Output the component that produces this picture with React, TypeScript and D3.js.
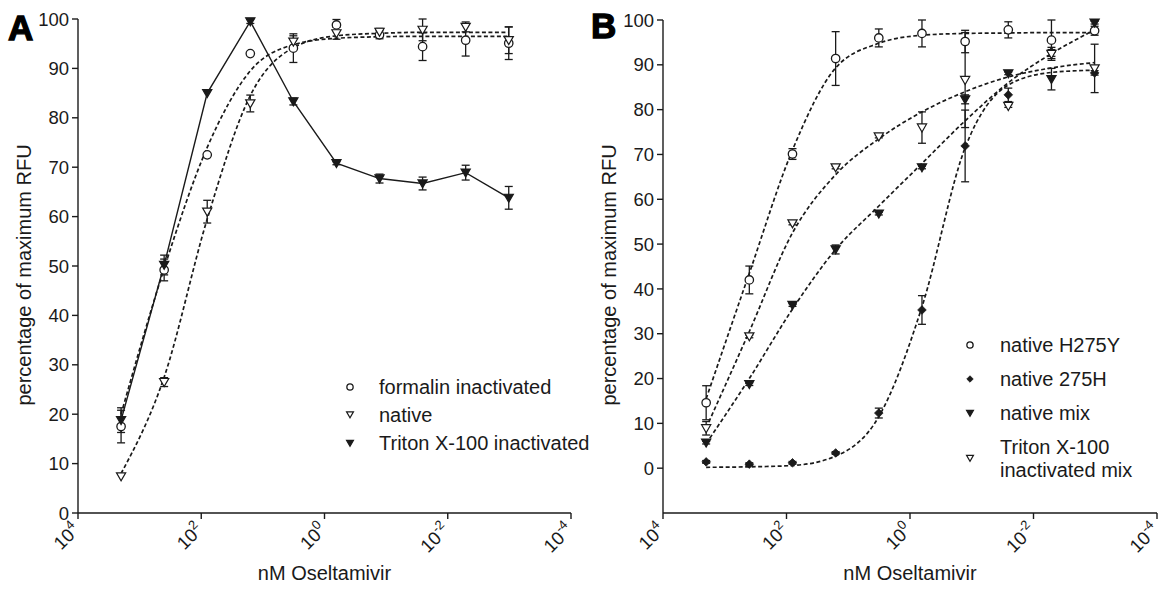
import React from "react";
import * as d3 from "d3";

// ---------- DATA ----------
const conc = [2000, 400, 80, 16, 3.2, 0.64, 0.128, 0.0256, 0.00512, 0.001024];
const xTickExps = [4, 2, 0, -2, -4];
const yTicksA = [0, 10, 20, 30, 40, 50, 60, 70, 80, 90, 100];
const yTicksB = [0, 10, 20, 30, 40, 50, 60, 70, 80, 90, 100];

// Panel A
const formalinMean = [17.5, 49.2, 72.5, 93, 94.1, 98.8, 96.8, 94.4, 95.7, 95.1];
const formalinSem = [3.3, 2.2, 0, 0, 2.9, 1.1, 0.8, 2.8, 3.2, 3.3];
const formalinFit = [20, 49.5, 74, 89.5, 94.8, 96.1, 96.4, 96.5, 96.5, 96.5];

const nativeMean = [7.4, 26.5, 61, 82.9, 95.4, 97.1, 97.4, 97.8, 98.4, 95.7];
const nativeSem = [0, 0.9, 2.3, 1.7, 1.2, 1.2, 0.7, 2.2, 1, 2.7];
const nativeFit = [8, 27.5, 59.5, 84.5, 94.2, 96.6, 97.1, 97.3, 97.3, 97.3];

const tritonMean = [18.8, 50.2, 85, 99.5, 83.3, 70.8, 67.7, 66.7, 68.9, 63.8];
const tritonSem = [2.5, 2, 0, 0.4, 0.7, 0.3, 0.9, 1.3, 1.5, 2.3];

// Panel B
const h275yMean = [14.6, 42, 70.1, 91.4, 96, 97, 95.2, 97.8, 95.5, 97.6];
const h275ySem = [3.8, 3.1, 1.2, 6, 2, 3, 2.5, 1.8, 4.5, 1];
const h275yFit = [15.5, 43.5, 71, 89.3, 94.8, 96.6, 97.0, 97.1, 97.2, 97.2];

const h275Mean = [1.4, 0.9, 1.2, 3.4, 12.3, 35.3, 71.9, 83.3, 92.9, 88.2];
const h275Sem = [0.3, 0.3, 0.3, 0.3, 1.1, 3.2, 8, 1.5, 1, 0.5];
const h275Fit = [0.2, 0.3, 0.6, 2.7, 11.5, 36, 71.5, 85.5, 88.3, 88.8];

const mixMean = [5.7, 18.75, 36.4, 48.8, 56.8, 67.1, 82.3, 88.1, 86.8, 99.4];
const mixSem = [0.3, 0.3, 0.3, 1, 0.3, 0.3, 1, 0.3, 2.4, 0.3];
const mixFit = [5.5, 20, 35.5, 48.8, 58.5, 68, 77.5, 86, 92.5, 97.8];

const tritonMixMean = [8.9, 29.4, 54.6, 67.1, 74, 76, 86.6, 80.8, 92.4, 89.2];
const tritonMixSem = [1.5, 0.3, 0.3, 0.3, 0.3, 3.5, 10.6, 0.3, 1, 5.4];
const tritonMixFit = [9, 30.5, 52.5, 65.5, 73.5, 79.5, 84, 87.3, 89.3, 90.5];

const legendA = ["formalin inactivated", "native", "Triton X-100 inactivated"];
const legendB = ["native H275Y", "native 275H", "native mix", "Triton X-100|inactivated mix"];

// ---------- STYLE ----------
const INK = "#1a1a1a";
const FONT = "'Liberation Sans', Arial, Helvetica, sans-serif";

type Shape = "circle" | "triOpen" | "triFilled" | "diamond";

function Marker({ x, y, shape, s = 1 }: { x: number; y: number; shape: Shape; s?: number }) {
  if (shape === "circle")
    return <circle cx={x} cy={y} r={4.2 * s} fill="#fff" stroke={INK} strokeWidth={1.3} />;
  if (shape === "diamond") {
    const r = 4.3 * s;
    return (
      <path d={`M${x},${y - r}L${x + r},${y}L${x},${y + r}L${x - r},${y}Z`} fill={INK} stroke={INK} strokeWidth={0.8} />
    );
  }
  const w = 4.6 * s, h1 = 3.6 * s, h2 = 4.4 * s;
  return (
    <path
      d={`M${x - w},${y - h1}L${x + w},${y - h1}L${x},${y + h2}Z`}
      fill={shape === "triFilled" ? INK : "#fff"}
      stroke={INK}
      strokeWidth={1.2}
      strokeLinejoin="miter"
    />
  );
}

function Series({ xs, ys, mean, sem }: { xs: any; ys: any; mean: number[]; sem: number[] }) {
  return (
    <g>
      {conc.map((c, i) => {
        const x = xs(c);
        const e = sem[i];
        if (e < 0.25) return null;
        const y1 = ys(mean[i] + e), y2 = ys(mean[i] - e);
        return (
          <g key={i} stroke={INK} strokeWidth={1.3}>
            <line x1={x} x2={x} y1={y1} y2={y2} />
            <line x1={x - 4} x2={x + 4} y1={y1} y2={y1} />
            <line x1={x - 4} x2={x + 4} y1={y2} y2={y2} />
          </g>
        );
      })}
    </g>
  );
}

function Markers({ xs, ys, mean, shape }: { xs: any; ys: any; mean: number[]; shape: Shape }) {
  return (
    <g>
      {conc.map((c, i) => (
        <Marker key={i} x={xs(c)} y={ys(mean[i])} shape={shape} />
      ))}
    </g>
  );
}

function FitLine({ xs, ys, fit, dashed = true }: { xs: any; ys: any; fit: number[]; dashed?: boolean }) {
  const line = d3
    .line<number>()
    .x((_, i) => xs(conc[i]))
    .y((v) => ys(v))
    .curve(dashed ? d3.curveMonotoneX : d3.curveLinear);
  return (
    <path
      d={line(fit) || ""}
      fill="none"
      stroke={INK}
      strokeWidth={dashed ? 1.7 : 1.4}
      strokeDasharray={dashed ? "4,2.5" : undefined}
    />
  );
}

function Axes({ xs, ys, yTicks, titleX }: { xs: any; ys: any; yTicks: number[]; titleX: number }) {
  const [x0, x1] = xs.range();
  const [yb] = ys.range();
  const yt = ys(100);
  const yAxisX = x0;
  return (
    <g fontFamily={FONT} fill={INK}>
      <line x1={yAxisX} x2={yAxisX} y1={yb} y2={yt} stroke={INK} strokeWidth={1.4} />
      <line x1={x0} x2={x1} y1={yb} y2={yb} stroke={INK} strokeWidth={1.4} />
      {yTicks.map((t) => (
        <g key={t}>
          <line x1={yAxisX - 6} x2={yAxisX} y1={ys(t)} y2={ys(t)} stroke={INK} strokeWidth={1.4} />
          <text x={yAxisX - 9} y={ys(t)} dy="0.36em" textAnchor="end" fontSize={18.5} fill={INK}>
            {t}
          </text>
        </g>
      ))}
      {xTickExps.map((e) => {
        const x = xs(Math.pow(10, e));
        return (
          <g key={e}>
            <line x1={x} x2={x} y1={yb} y2={yb + 6} stroke={INK} strokeWidth={1.4} />
            <text transform={`translate(${x + 3},${yb + 18}) rotate(-45)`} textAnchor="end" fontSize={18.5} fill={INK}>
              10<tspan dy={-8} fontSize={13}>{e}</tspan>
            </text>
          </g>
        );
      })}
      <text x={(x0 + x1) / 2} y={580} textAnchor="middle" fontSize={20} fill={INK}>
        nM Oseltamivir
      </text>
      <text transform={`translate(${titleX},275) rotate(-90)`} textAnchor="middle" fontSize={20} fill={INK}>
        percentage of maximum RFU
      </text>
    </g>
  );
}

export default function App() {
  // Panel A scales
  const xA = d3.scaleLog().domain([1e4, 1e-4]).range([78, 571]);
  const yA = d3.scaleLinear().domain([0, 100]).range([513, 19]);
  // Panel B scales
  const xB = d3.scaleLog().domain([1e4, 1e-4]).range([663, 1157]);
  const yB = d3.scaleLinear().domain([-10, 100]).range([513, 20]);

  const legShapesA: Shape[] = ["circle", "triOpen", "triFilled"];
  const legShapesB: Shape[] = ["circle", "diamond", "triFilled", "triOpen"];
  const legYA = [387, 414.5, 443];
  const legYB = [345, 379, 413, 458];

  return (
    <svg width={1162} height={590} style={{ position: "absolute", left: 0, top: 0, background: "#fff" }}>
      <rect width={1162} height={590} fill="#fff" />
      {/* Panel A */}
      <text x={8} y={40} fontFamily={FONT} fontWeight={900} fontSize={35} fill="#000" stroke="#000" strokeWidth={1.3}>A</text>
      <Axes xs={xA} ys={yA} yTicks={yTicksA} titleX={31} />
      <FitLine xs={xA} ys={yA} fit={formalinFit} />
      <FitLine xs={xA} ys={yA} fit={nativeFit} />
      <FitLine xs={xA} ys={yA} fit={tritonMean} dashed={false} />
      <Series xs={xA} ys={yA} mean={formalinMean} sem={formalinSem} />
      <Series xs={xA} ys={yA} mean={nativeMean} sem={nativeSem} />
      <Series xs={xA} ys={yA} mean={tritonMean} sem={tritonSem} />
      <Markers xs={xA} ys={yA} mean={formalinMean} shape="circle" />
      <Markers xs={xA} ys={yA} mean={nativeMean} shape="triOpen" />
      <Markers xs={xA} ys={yA} mean={tritonMean} shape="triFilled" />
      <g fontFamily={FONT} fontSize={20} fill={INK}>
        {legendA.map((l, i) => (
          <g key={l}>
            <Marker x={350} y={legYA[i]} shape={legShapesA[i]} s={0.75} />
            <text x={379} y={legYA[i]} dy="0.36em">{l}</text>
          </g>
        ))}
      </g>

      {/* Panel B */}
      <text x={591} y={38} fontFamily={FONT} fontWeight={900} fontSize={35} fill="#000" stroke="#000" strokeWidth={1.3}>B</text>
      <Axes xs={xB} ys={yB} yTicks={yTicksB} titleX={616} />
      <FitLine xs={xB} ys={yB} fit={h275yFit} />
      <FitLine xs={xB} ys={yB} fit={h275Fit} />
      <FitLine xs={xB} ys={yB} fit={mixFit} />
      <FitLine xs={xB} ys={yB} fit={tritonMixFit} />
      <Series xs={xB} ys={yB} mean={h275yMean} sem={h275ySem} />
      <Series xs={xB} ys={yB} mean={h275Mean} sem={h275Sem} />
      <Series xs={xB} ys={yB} mean={mixMean} sem={mixSem} />
      <Series xs={xB} ys={yB} mean={tritonMixMean} sem={tritonMixSem} />
      <Markers xs={xB} ys={yB} mean={h275yMean} shape="circle" />
      <Markers xs={xB} ys={yB} mean={h275Mean} shape="diamond" />
      <Markers xs={xB} ys={yB} mean={mixMean} shape="triFilled" />
      <Markers xs={xB} ys={yB} mean={tritonMixMean} shape="triOpen" />
      <g fontFamily={FONT} fontSize={20} fill={INK}>
        {legendB.map((l, i) => {
          const parts = l.split("|");
          return (
            <g key={l}>
              <Marker x={970} y={legYB[i]} shape={legShapesB[i]} s={0.75} />
              {parts.length === 1 ? (
                <text x={1000} y={legYB[i]} dy="0.36em">{l}</text>
              ) : (
                <text x={1000} y={legYB[i] - 11} dy="0.36em">
                  <tspan x={1000}>{parts[0]}</tspan>
                  <tspan x={1000} dy={23}>{parts[1]}</tspan>
                </text>
              )}
            </g>
          );
        })}
      </g>
    </svg>
  );
}
